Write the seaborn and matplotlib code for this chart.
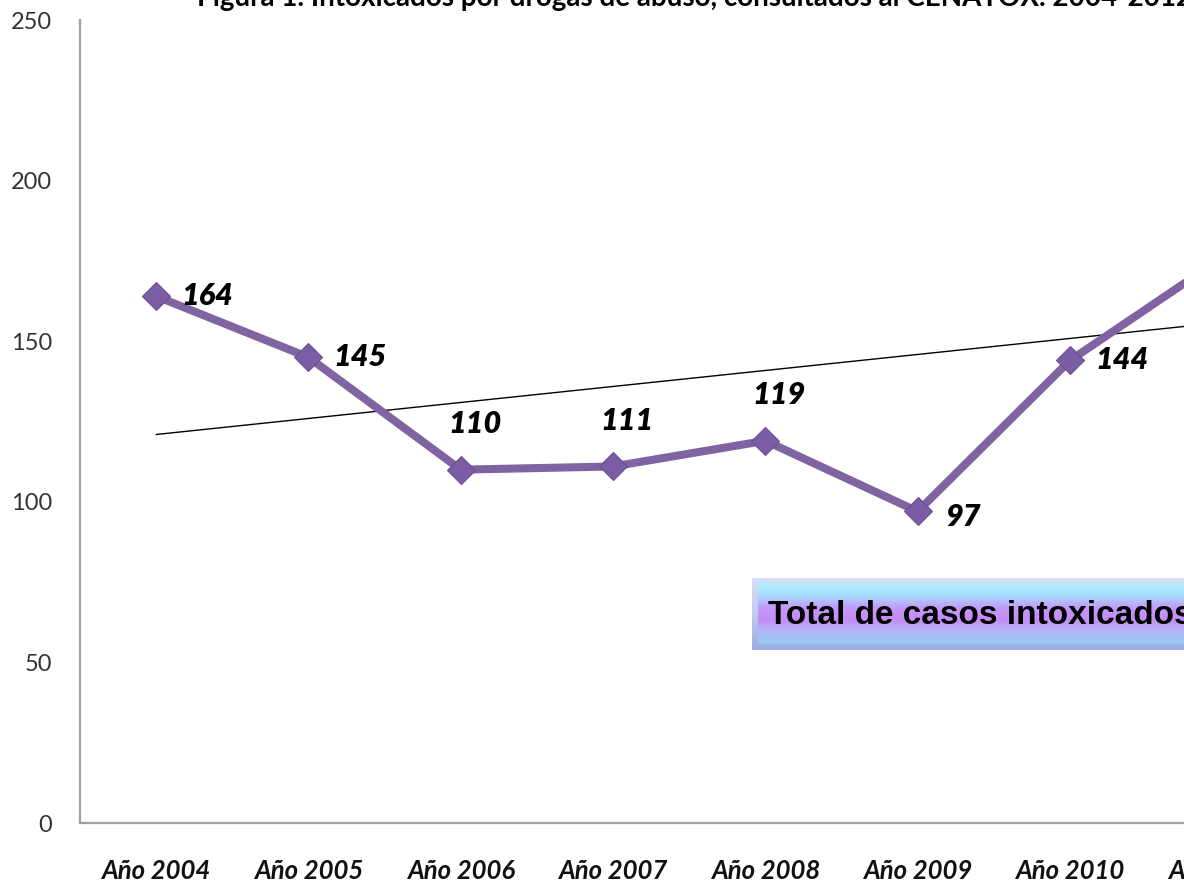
import numpy as np
import pandas as pd
import matplotlib
matplotlib.use("Agg")
import matplotlib.pyplot as plt
from matplotlib.colors import LinearSegmentedColormap
import seaborn as sns

# datos (los dos ultimos años quedan fuera del recorte de la imagen)
anios = ["Año 2004", "Año 2005", "Año 2006", "Año 2007", "Año 2008",
         "Año 2009", "Año 2010", "Año 2011", "Año 2012"]
casos = [164, 145, 110, 111, 119, 97, 144, 176, 202]
etiquetas_visibles = [True, True, True, True, True, True, True, False, False]
lado_etiqueta = ["right", "right", "above", "above", "above", "below", "right", "right", "right"]
yticks = [0, 50, 100, 150, 200, 250]
titulo = "Figura 1. Intoxicados por drogas de abuso, consultados al CENATOX. 2004-2012"
leyenda = "Total de casos intoxicados"

df = pd.DataFrame({"pos": np.arange(len(anios)), "anio": anios, "casos": casos})

sns.set_style("white")
plt.rcParams["font.family"] = ["Lato", "DejaVu Sans"]

W, H = 1184, 886
fig = plt.figure(figsize=(W / 100, H / 100), dpi=100)

# el area del grafico sigue mas alla del borde derecho (imagen recortada)
left, bottom, top = 80, 63, 20
ancho = 152.3 * len(anios)
ax = fig.add_axes([left / W, bottom / H, ancho / W, (H - bottom - top) / H])

purpura = "#8064A2"
sns.lineplot(data=df, x="pos", y="casos", ax=ax, color=purpura, linewidth=5.8,
             marker="D", markersize=14, markerfacecolor="#7B5DA6",
             markeredgecolor="#6A4F92", markeredgewidth=0.8, zorder=3)

# linea de tendencia lineal
coef = np.polyfit(df["pos"], df["casos"], 1)
ax.plot(df["pos"], np.polyval(coef, df["pos"]), color="black", linewidth=1.0, zorder=2)

offsets = {"right": (18, 0, "left", "center"),
           "above": (10, 33, "center", "center"),
           "below": (20, -4, "left", "center")}
for p, v, vis, lado in zip(df["pos"], casos, etiquetas_visibles, lado_etiqueta):
    if not vis:
        continue
    dx, dy, ha, va = offsets[lado]
    ax.annotate(str(v), (p, v), xytext=(dx, dy), textcoords="offset points",
                ha=ha, va=va, fontsize=22, fontweight="heavy", fontstyle="italic",
                color="black", zorder=4)

ax.set_xlim(-0.5, len(anios) - 0.5)
ax.set_ylim(0, 250)
ax.set_yticks(yticks)
ax.set_yticklabels([str(t) for t in yticks], fontsize=17, color="#333333")
ax.set_xticks(df["pos"])
ax.set_xticklabels(anios, fontsize=18.5, fontweight="bold", fontstyle="italic", color="#111111")
ax.tick_params(axis="y", length=0, pad=20)
ax.tick_params(axis="x", length=0, pad=26)
ax.set_xlabel("")
ax.set_ylabel("")
for s in ["top", "right"]:
    ax.spines[s].set_visible(False)
for s in ["left", "bottom"]:
    ax.spines[s].set_color("#A0A0A0")
    ax.spines[s].set_linewidth(1.6)

# titulo cortado en el borde superior
fig.text(197 / W, 1 - 6 / H, titulo, ha="left", va="baseline", fontsize=20,
         fontweight="bold", color="black")

# cuadro de leyenda con degradado
cmap_borde = LinearSegmentedColormap.from_list("borde", ["#D8DEF6", "#C0CCF0", "#9CAEE0"])
cmap_caja = LinearSegmentedColormap.from_list(
    "caja", ["#B4F2FF", "#A8DCFF", "#C49AF8", "#C48CF6", "#B0B8F8", "#98CCF4"])
bx0, by0, bw, bh = 752, 578, 500, 72
lax = fig.add_axes([bx0 / W, 1 - (by0 + bh) / H, bw / W, bh / H])
lax.imshow(np.linspace(0, 1, 100).reshape(-1, 1), aspect="auto", cmap=cmap_borde,
           extent=(0, bw, bh, 0))
lax.imshow(np.linspace(0, 1, 100).reshape(-1, 1), aspect="auto", cmap=cmap_caja,
           extent=(6, bw, bh - 6, 6))
lax.set_xlim(0, bw)
lax.set_ylim(bh, 0)
lax.axis("off")
lax.text(16, bh / 2 + 1, leyenda, ha="left", va="center", fontsize=24,
         fontweight="bold", family=["Liberation Sans", "DejaVu Sans"], color="black")

fig.savefig("out.png", dpi=100)
